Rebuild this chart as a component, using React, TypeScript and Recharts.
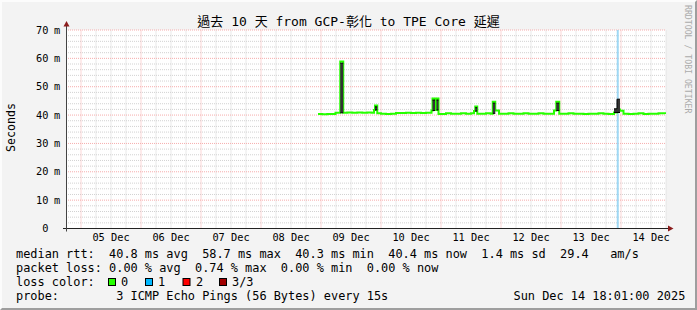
import React from "react";
import {
  ComposedChart,
  Line,
  Area,
  XAxis,
  YAxis,
  ReferenceLine,
  ReferenceArea,
} from "recharts";

// hours since Dec 4 18:00 (left edge of the 10 day window)
const hours = [
  100.8, 102.5, 104.5, 106.5, 107.8, 109.7, 110.9, 112.5, 114.5, 116.5, 118.5,
  120.5, 122.2, 123.2, 123.6, 124.5, 126.0, 128.0, 130.0, 132.0, 134.0, 136.0,
  138.0, 140.0, 142.0, 144.0, 146.2, 146.6, 147.6, 147.9, 148.2, 149.0, 150.5,
  152.0, 154.0, 156.0, 158.0, 160.0, 162.0, 163.2, 163.7, 164.5, 166.0, 168.0,
  169.8, 170.7, 171.7, 173.2, 175.0, 177.0, 179.0, 181.0, 183.0, 185.0, 187.0,
  189.0, 191.0, 193.0, 195.2, 196.1, 197.3, 199.0, 201.0, 203.0, 205.0, 207.0,
  209.0, 211.0, 213.0, 215.0, 217.0, 219.2, 220.4, 221.6, 223.0, 225.0, 227.0,
  229.0, 231.0, 233.0, 235.0, 237.0, 239.6,
];

// median rtt (ms)
const medianRtt = [
  40.4, 40.3, 40.4, 40.4, 40.8, 58.9, 40.8, 40.9, 40.8, 40.9, 40.8,
  40.9, 40.8, 41.8, 43.4, 40.6, 40.5, 40.4, 40.5, 40.7, 40.7, 40.8,
  40.7, 40.8, 40.7, 40.8, 41.6, 45.8, 41.8, 41.8, 45.8, 40.4, 40.4,
  40.6, 40.5, 40.5, 40.6, 40.5, 40.6, 41.4, 43.0, 40.5, 40.5, 40.6,
  40.5, 44.7, 41.6, 40.5, 40.5, 40.6, 40.5, 40.5, 40.6, 40.5, 40.5,
  40.6, 40.5, 40.5, 41.6, 44.7, 40.5, 40.5, 40.6, 40.5, 40.5, 40.4,
  40.5, 40.5, 40.6, 40.5, 40.4, 40.9, 42.0, 41.5, 40.5, 40.4, 40.5,
  40.6, 40.4, 40.5, 40.5, 40.6, 40.4,
];

// ping spread ("smoke"), only where it sticks out of the median line
const smokeLow: (number | null)[] = [
  null, null, null, null, null, 40.8, 40.8, null, null, null, null,
  null, null, null, 41.8, 41.8, null, null, null, null, null, null,
  null, null, null, null, null, 41.6, 41.6, null, 41.8, 41.8, null,
  null, null, null, null, null, null, null, 41.4, 41.4, null, null,
  null, 40.6, 40.6, null, null, null, null, null, null, null, null,
  null, null, null, null, 41.6, 41.6, null, null, null, null, null,
  null, null, null, null, null, 40.9, 40.9, 40.9, null, null, null,
  null, null, null, null, null, null,
];
const smokeHigh: (number | null)[] = [
  null, null, null, null, null, 58.3, 58.3, null, null, null, null,
  null, null, null, 42.9, 42.9, null, null, null, null, null, null,
  null, null, null, null, null, 45.3, 45.3, null, 45.3, 45.3, null,
  null, null, null, null, null, null, null, 42.6, 42.6, null, null,
  null, 44.2, 44.2, null, null, null, null, null, null, null, null,
  null, null, null, null, 44.2, 44.2, null, null, null, null, null,
  null, null, null, null, null, 42.2, 45.6, 45.6, null, null, null,
  null, null, null, null, null, null,
];

const lossMarks = [220.7];

const dayTicks = [18, 42, 66, 90, 114, 138, 162, 186, 210, 234];
const dayLabels = [
  "05 Dec", "06 Dec", "07 Dec", "08 Dec", "09 Dec",
  "10 Dec", "11 Dec", "12 Dec", "13 Dec", "14 Dec",
];
const msTicks = [0, 10, 20, 30, 40, 50, 60, 70];

const midnightGrid = [6, 30, 54, 78, 102, 126, 150, 174, 198, 222];
const sixHourGrid = Array.from({ length: 40 }, (_, i) => (i + 1) * 6).filter(
  (h) => !midnightGrid.includes(h)
);
const twoMsGrid = Array.from({ length: 34 }, (_, i) => (i + 1) * 2).filter(
  (v) => v % 10 !== 0
);
const tenMsGrid = [10, 20, 30, 40, 50, 60, 70];

const statLines = [
  "median rtt:  40.8 ms avg  58.7 ms max  40.3 ms min  40.4 ms now  1.4 ms sd  29.4   am/s",
  "packet loss: 0.00 % avg  0.74 % max  0.00 % min  0.00 % now",
];
const lossColors = [
  { label: "0", color: "#26ff00" },
  { label: "1", color: "#00b8ff" },
  { label: "2", color: "#ff0000" },
  { label: "3/3", color: "#a10000" },
];
const probeText = "probe:        3 ICMP Echo Pings (56 Bytes) every 15s";
const stampText = "Sun Dec 14 18:01:00 2025";
const title = "過去 10 天 from GCP-彰化 to TPE Core 延遲";

const MONO = '"DejaVu Sans Mono", "Noto Sans CJK TC", monospace';

const data = hours.map((h, i) => ({
  h,
  median: medianRtt[i],
  smoke:
    smokeLow[i] == null || smokeHigh[i] == null
      ? null
      : [smokeLow[i], smokeHigh[i]],
}));

function DayTick({ x, payload }: any) {
  const i = dayTicks.indexOf(payload.value);
  return (
    <text x={x} y={241} textAnchor="middle" fontFamily={MONO} fontSize={10.3} fill="#000">
      {dayLabels[i]}
    </text>
  );
}

function MsTick({ y, payload }: any) {
  const v = payload.value;
  return (
    <g fontFamily={MONO} fontSize={10.3} fill="#000">
      <text x={48.5} y={y + 3.7} textAnchor="end">
        {v}
      </text>
      {v !== 0 && (
        <text x={54} y={y + 3.7}>
          m
        </text>
      )}
    </g>
  );
}

export default function App() {
  const swatchX = [108.5, 145.5, 183, 219.5];
  const labelX = [121, 158, 196, 232];
  return (
    <div
      style={{
        position: "relative",
        width: 697,
        height: 310,
        background: "#f3f3f3",
        boxSizing: "border-box",
        borderTop: "2px solid #fcfcfc",
        borderLeft: "2px solid #fcfcfc",
        borderBottom: "2px solid #9e9e9e",
        borderRight: "2px solid #9e9e9e",
      }}
    >
      <style>{"body{margin:0}"}</style>
      <div style={{ position: "absolute", left: -2, top: -2 }}>
        <ComposedChart
          width={697}
          height={310}
          data={data}
          margin={{ top: 30, right: 31, bottom: 61.5, left: 6 }}
        >
          <XAxis
            dataKey="h"
            type="number"
            domain={[0, 240]}
            ticks={dayTicks}
            interval={0}
            tick={<DayTick />}
            tickLine={false}
            axisLine={false}
            height={20}
            allowDataOverflow
          />
          <YAxis
            type="number"
            domain={[0, 70]}
            ticks={msTicks}
            interval={0}
            tick={<MsTick />}
            tickLine={false}
            axisLine={false}
            width={60}
            allowDataOverflow
          />
          <ReferenceArea
            x1={0}
            x2={240}
            y1={0}
            y2={70}
            fill="#ffffff"
            fillOpacity={1}
            stroke="none"
            zIndex={-300}
          />
          {sixHourGrid.map((h) => (
            <ReferenceLine key={"vh" + h} x={h} stroke="#d2d2d2" strokeDasharray="1 1" zIndex={-200} />
          ))}
          {twoMsGrid.map((v) => (
            <ReferenceLine key={"hm" + v} y={v} stroke="#d2d2d2" strokeDasharray="1 1" zIndex={-200} />
          ))}
          {midnightGrid.map((h) => (
            <ReferenceLine key={"vd" + h} x={h} stroke="#f6acac" strokeDasharray="1 1" zIndex={-150} />
          ))}
          {tenMsGrid.map((v) => (
            <ReferenceLine key={"hM" + v} y={v} stroke="#f6acac" strokeDasharray="1 1" zIndex={-150} />
          ))}
          {lossMarks.map((h) => (
            <ReferenceLine key={"loss" + h} x={h} stroke="#9fd8f4" strokeWidth={2} zIndex={-100} />
          ))}
          <Line
            dataKey="median"
            type="stepAfter"
            stroke="#26ff00"
            strokeWidth={2}
            dot={false}
            activeDot={false}
            isAnimationActive={false}
            zIndex={400}
          />
          <Area
            dataKey="smoke"
            type="stepAfter"
            fill="#333333"
            fillOpacity={1}
            stroke="#000000"
            strokeWidth={1}
            dot={false}
            activeDot={false}
            isAnimationActive={false}
            zIndex={450}
          />
        </ComposedChart>
      </div>
      <svg
        width={697}
        height={310}
        style={{ position: "absolute", left: -2, top: -2, pointerEvents: "none" }}
      >
        <text x={348.5} y={26} textAnchor="middle" fontFamily={MONO} fontSize={13} fill="#000">
          {title}
        </text>
        <text
          transform="translate(15,127.5) rotate(-90)"
          textAnchor="middle"
          fontFamily={MONO}
          fontSize={11.6}
          fill="#000"
        >
          Seconds
        </text>
        <text
          transform="translate(684.5,5) rotate(90)"
          fontFamily={MONO}
          fontSize={8.2}
          fill="#ababab"
        >
          RRDTOOL / TOBI OETIKER
        </text>
        {/* axes */}
        <line x1={63} y1={228.5} x2={669} y2={228.5} stroke="#222" strokeWidth={1} />
        <line x1={66.5} y1={231.5} x2={66.5} y2={25} stroke="#444" strokeWidth={1} />
        <polygon points="673.5,228.5 668,225.5 668,231.5" fill="#8b1c1c" />
        <polygon points="66.5,21 63.5,26.5 69.5,26.5" fill="#8b1c1c" />
        {/* legend */}
        <g fontFamily={MONO} fontSize={11.9} fill="#000" style={{ whiteSpace: "pre" }}>
          <text x={16} y={257.7} xmlSpace="preserve">
            {statLines[0]}
          </text>
          <text x={16} y={271.7} xmlSpace="preserve">
            {statLines[1]}
          </text>
          <text x={16} y={285.7}>
            loss color:
          </text>
          {lossColors.map((c, i) => (
            <g key={c.label}>
              <rect
                x={swatchX[i]}
                y={278.5}
                width={7}
                height={7}
                fill={c.color}
                stroke="#000"
                strokeWidth={1}
              />
              <text x={labelX[i]} y={285.7}>
                {c.label}
              </text>
            </g>
          ))}
          <text x={16} y={299.7} xmlSpace="preserve">
            {probeText}
          </text>
          <text x={513.5} y={299.7}>
            {stampText}
          </text>
        </g>
      </svg>
    </div>
  );
}
